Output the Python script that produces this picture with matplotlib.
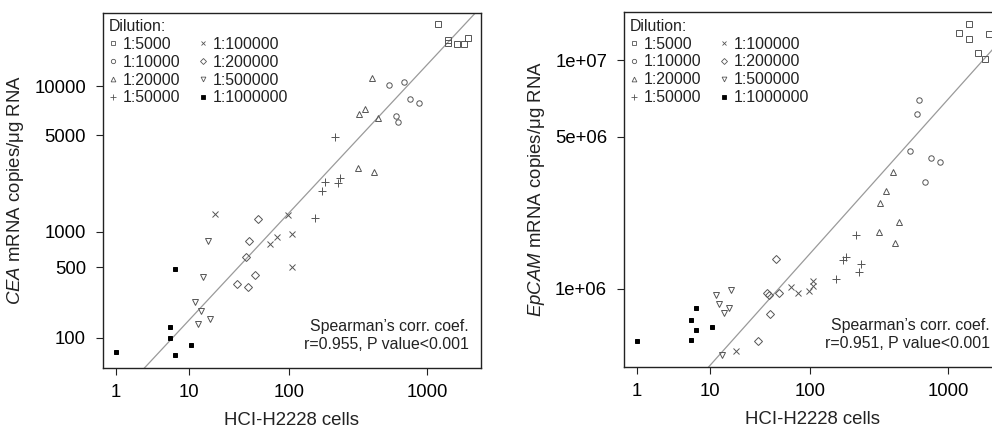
import numpy as np
import matplotlib
matplotlib.use('Agg')
import matplotlib.pyplot as plt
from matplotlib.lines import Line2D

plt.rcParams['font.family'] = ['Liberation Sans', 'DejaVu Sans']
plt.rcParams['mathtext.fontset'] = 'custom'
plt.rcParams['mathtext.rm'] = 'Liberation Sans'
plt.rcParams['mathtext.it'] = 'Liberation Sans:italic'

# Cell counts per dilution (shared by both panels)
dilutions = ['1:5000', '1:10000', '1:20000', '1:50000',
             '1:100000', '1:200000', '1:500000', '1:1000000']
cells_5000 = [1170, 1345, 1345, 1510, 1660, 1745]
cells_10000 = [566, 637, 657, 719, 788, 890]
cells_20000 = [347, 355, 388, 437, 448, 477]
cells_50000 = [165, 188, 196, 237, 248, 258]
cells_100000 = [19.5, 68, 79, 98, 107, 107]
cells_200000 = [33.5, 41, 43, 43.2, 49.3, 53]
cells_500000 = [11.7, 12.7, 13.7, 14.6, 16.6, 17.6]
cells_1000000 = [1, 5.85, 5.85, 6.8, 6.8, 10.75]

# CEA mRNA copies/ug RNA
cea_5000 = [21990, 18170, 17400, 17270, 17270, 18530]
cea_10000 = [10100, 6610, 6080, 10610, 8340, 7910]
cea_20000 = [3010, 6790, 7280, 11190, 2810, 6410]
cea_50000 = [1285, 2060, 2410, 4890, 2370, 2570]
cea_100000 = [1385, 792, 916, 1360, 957, 501]
cea_200000 = [352, 612, 329, 839, 425, 1274]
cea_500000 = [238, 141, 192, 409, 839, 158]
cea_1000000 = [67.7, 131, 100, 487, 63, 82.6]

# EpCAM mRNA copies/ug RNA
epcam_5000 = [1.263e7, 1.355e7, 1.203e7, 1.067e7, 1.010e7, 1.247e7]
epcam_10000 = [4.39e6, 6.21e6, 7.03e6, 3.22e6, 4.10e6, 3.92e6]
epcam_20000 = [1.91e6, 2.60e6, 2.92e6, 3.54e6, 1.68e6, 2.12e6]
epcam_50000 = [1.12e6, 1.40e6, 1.45e6, 1.85e6, 1.22e6, 1.33e6]
epcam_100000 = [4.59e5, 1.02e6, 9.53e5, 9.76e5, 1.09e6, 1.03e6]
epcam_200000 = [5.23e5, 9.46e5, 9.31e5, 7.38e5, 1.41e6, 9.53e5]
epcam_500000 = [9.31e5, 8.30e5, 4.31e5, 7.4e5, 7.91e5, 9.82e5]
epcam_1000000 = [5.23e5, 6.79e5, 5.27e5, 7.94e5, 6.01e5, 6.24e5]

# fitted lines (intercept, slope) on the power-transformed axes
cea_fit = (0.086, 1.403)
epcam_fit = (2.637, 2.457)

x_ticks = [1, 10, 100, 1000]
cea_ticks = [100, 500, 1000, 5000, 10000]
cea_tick_labels = ['100', '500', '1000', '5000', '10000']
epcam_ticks = [1e6, 5e6, 1e7]
epcam_tick_labels = ['1e+06', '5e+06', '1e+07']

cea_stats = 'Spearman\u2019s corr. coef.\nr=0.955, P value<0.001'
epcam_stats = 'Spearman\u2019s corr. coef.\nr=0.951, P value<0.001'

P = 0.14


def fwd(v):
    return np.power(np.clip(v, 1e-9, None), P)


def inv(t):
    return np.power(np.clip(t, 1e-9, None), 1 / P)


markers = [
    dict(marker='s', mfc='none', ms=3.7),
    dict(marker='o', mfc='none', ms=3.9),
    dict(marker='^', mfc='none', ms=4.3),
    dict(marker='+', ms=6.0),
    dict(marker='x', ms=4.2),
    dict(marker='D', mfc='none', ms=3.8),
    dict(marker='v', mfc='none', ms=4.3),
    dict(marker='s', mfc='black', mec='black', ms=3.0),
]
mcolor = '#555555'


def panel(ax, cells, vals, fit, ylim, yticks, ylabels, ylabel, stats):
    ax.set_xscale('function', functions=(fwd, inv))
    ax.set_yscale('function', functions=(fwd, inv))
    for x, y, m in zip(cells, vals, markers):
        kw = dict(mec=mcolor, mew=0.7, color=mcolor)
        kw.update(m)
        ax.plot(x, y, ls='none', **kw)
    xs = np.geomspace(0.3, 5000, 300)
    ys = inv(fit[0] + fit[1] * fwd(xs))
    ax.plot(xs, ys, color='#9a9a9a', lw=0.9, zorder=1)
    ax.set_xlim(0.59, 2080)
    ax.set_ylim(*ylim)
    ax.set_xticks(x_ticks)
    ax.set_xticklabels([str(t) for t in x_ticks])
    ax.set_yticks(yticks)
    ax.set_yticklabels(ylabels)
    ax.minorticks_off()
    ax.tick_params(length=5, width=0.8, pad=7, labelsize=13.3, color='#222222')
    for s in ax.spines.values():
        s.set_linewidth(1.0)
        s.set_color('#222222')
    ax.set_xlabel('HCI-H2228 cells', fontsize=13.4, labelpad=8, color='#222222')
    ax.set_ylabel(ylabel, fontsize=13.4, labelpad=6, color='#222222')
    ax.text(0.968, 0.045, stats, transform=ax.transAxes, ha='right', va='bottom',
            fontsize=11.4, linespacing=1.25, color='#222222')
    handles = []
    for m in markers:
        kw = dict(mec=mcolor, mew=0.6, color=mcolor)
        kw.update(m)
        kw['ms'] = kw['ms'] * 0.8
        handles.append(Line2D([], [], ls='none', **kw))
    leg = ax.legend(handles, dilutions, ncol=2, title='Dilution:', loc='upper left',
                    frameon=False, fontsize=11.4, title_fontsize=11.4,
                    handlelength=0.5, handletextpad=0.35, columnspacing=1.2,
                    labelspacing=0.18, borderaxespad=0.2, borderpad=0.2,
                    alignment='left')
    for t in leg.get_texts():
        t.set_color('#222222')
    leg.get_title().set_color('#222222')


fig = plt.figure(figsize=(9.92, 4.28), dpi=100)
ax1 = fig.add_axes([0.1035, 0.1409, 0.3814, 0.8294])
ax2 = fig.add_axes([0.6287, 0.1432, 0.3814, 0.8280])

panel(ax1,
      [cells_5000, cells_10000, cells_20000, cells_50000,
       cells_100000, cells_200000, cells_500000, cells_1000000],
      [cea_5000, cea_10000, cea_20000, cea_50000,
       cea_100000, cea_200000, cea_500000, cea_1000000],
      cea_fit, (44, 25300), cea_ticks, cea_tick_labels,
      r'$\mathit{CEA}$ mRNA copies/μg RNA', cea_stats)

panel(ax2,
      [cells_5000, cells_10000, cells_20000, cells_50000,
       cells_100000, cells_200000, cells_500000, cells_1000000],
      [epcam_5000, epcam_10000, epcam_20000, epcam_50000,
       epcam_100000, epcam_200000, epcam_500000, epcam_1000000],
      epcam_fit, (3.69e5, 1.496e7), epcam_ticks, epcam_tick_labels,
      r'$\mathit{EpCAM}$ mRNA copies/μg RNA', epcam_stats)

fig.savefig('out.png', dpi=100)
